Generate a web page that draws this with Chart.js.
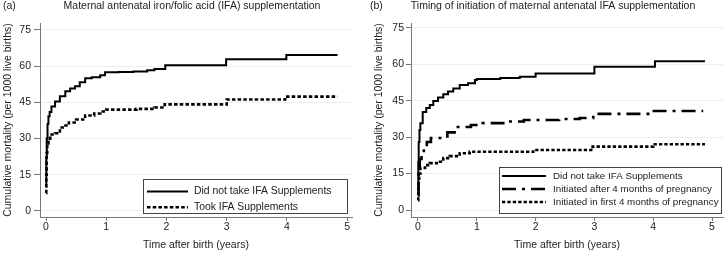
<!DOCTYPE html>
<html><head><meta charset="utf-8">
<script src="https://cdn.jsdelivr.net/npm/chart.js@4/dist/chart.umd.min.js"></script>
<style>
html,body{margin:0;padding:0;background:#fff;}
#wrap{position:relative;width:727px;height:254px;overflow:hidden;}
.pane{position:absolute;top:0;height:254px;}
canvas{display:block;}
</style></head><body>
<div id="wrap">
<div class="pane" style="left:0;width:363px"><canvas id="ca" width="363" height="254"></canvas></div>
<div class="pane" style="left:363px;width:364px"><canvas id="cb" width="364" height="254"></canvas></div>
</div>
<script>
// ---- data ----
const xTicks = [0, 1, 2, 3, 4, 5];
const yTicks = [0, 15, 30, 45, 60, 75];

// Panel (a)
const timeA_none = [0, 0.005, 0.012, 0.025, 0.04, 0.06, 0.09, 0.15, 0.23, 0.32, 0.4, 0.48, 0.56, 0.65, 0.76, 0.9, 0.98, 1.2, 1.45, 1.68, 1.8, 1.98, 2.99, 3.99, 4.84];
const cumA_none  = [10, 22, 30, 36, 39.3, 41, 43.3, 45.4, 47.5, 49.6, 50.8, 51.7, 53.3, 55, 55.4, 56.2, 57.5, 57.6, 57.8, 58.3, 58.8, 60.4, 62.9, 64.6, 64.6];
const timeA_took = [0, 0.004, 0.01, 0.02, 0.04, 0.07, 0.15, 0.23, 0.3, 0.38, 0.5, 0.65, 0.8, 0.9, 1.0, 1.5, 1.8, 1.97, 3.0, 3.97, 4.84];
const cumA_took  = [7.5, 15, 24, 28, 30, 31.7, 32.2, 34.6, 35.4, 36.7, 37.9, 39.6, 40.4, 41.2, 42, 42.3, 42.9, 44.2, 46.2, 47.4, 47.4];

// Panel (b)
const timeB_none  = [0, 0.005, 0.012, 0.025, 0.04, 0.08, 0.14, 0.2, 0.26, 0.34, 0.43, 0.51, 0.6, 0.71, 0.85, 0.97, 1.0, 1.4, 1.73, 2.0, 3.0, 4.03, 4.88];
const cumB_none   = [8, 20, 28, 33, 35.8, 40.4, 42, 43.3, 44.9, 46.4, 47.7, 48.8, 50.1, 51.5, 52.2, 53.6, 54, 54.4, 54.9, 56.3, 59.0, 61.3, 61.3];
const timeB_late  = [0, 0.01, 0.03, 0.06, 0.1, 0.15, 0.22, 0.4, 0.5, 0.65, 0.9, 1.1, 1.45, 1.8, 2.4, 2.75, 2.98, 3.98, 4.85];
const cumB_late   = [6, 16, 21, 23.5, 24.5, 28, 29.7, 30.3, 32, 34.2, 35, 35.8, 36.5, 37.1, 37.5, 37.9, 39.6, 40.8, 40.8];
const timeB_early = [0, 0.005, 0.01, 0.02, 0.04, 0.12, 0.2, 0.32, 0.43, 0.54, 0.71, 0.88, 1.96, 2.97, 4.0, 4.88];
const cumB_early  = [4, 8, 12, 15, 17.3, 18.5, 19.3, 19.9, 21.4, 22.2, 23.4, 24, 24.7, 26.1, 27.1, 27.1];

const labelsA = ['Did not take IFA Supplements', 'Took IFA Supplements'];
const labelsB = ['Did not take IFA Supplements', 'Initiated after 4 months of pregnancy', 'Initiated in first 4 months of pregnancy'];

// ---- helpers ----
const FONT = '"Liberation Sans", Arial, Helvetica, sans-serif';
const pts = (t, v) => t.map((x, i) => ({x: x, y: v[i]}));

const boxLegend = {
  id: 'boxLegend',
  afterDatasetsDraw(chart, args, o) {
    const ctx = chart.ctx, ca = chart.chartArea;
    const x = ca.right - o.right - o.width;
    const y = ca.bottom - o.bottom - o.height;
    ctx.save();
    ctx.fillStyle = '#fff';
    ctx.fillRect(x, y, o.width, o.height);
    ctx.strokeStyle = '#444';
    ctx.lineWidth = 1;
    ctx.strokeRect(x + 0.5, y + 0.5, o.width - 1, o.height - 1);
    chart.data.datasets.forEach((ds, i) => {
      const cy = y + o.rowTop + i * o.rowGap;
      ctx.beginPath();
      ctx.setLineDash(ds.borderDash || []);
      ctx.lineWidth = ds.borderWidth;
      ctx.strokeStyle = ds.borderColor;
      ctx.lineCap = 'butt';
      ctx.moveTo(x + o.sampleX, cy);
      ctx.lineTo(x + o.sampleX + o.sampleW, cy);
      ctx.stroke();
      ctx.setLineDash([]);
      ctx.fillStyle = '#222';
      ctx.font = o.fontSize + 'px ' + FONT;
      ctx.textBaseline = 'middle';
      ctx.textAlign = 'left';
      ctx.fillText(ds.label, x + o.textX, cy);
    });
    ctx.restore();
  }
};

const panelText = {
  id: 'panelText',
  afterDraw(chart, args, o) {
    const ctx = chart.ctx;
    ctx.save();
    ctx.fillStyle = '#222';
    ctx.font = '10.5px ' + FONT;
    ctx.textBaseline = 'middle';
    ctx.textAlign = 'left';
    ctx.fillText(o.tag, o.tagX, o.y);
    ctx.textAlign = 'center';
    ctx.fillText(o.title, o.titleX, o.y);
    ctx.restore();
  }
};

function makeChart(id, cfg) {
  const datasets = cfg.series.map(s => ({
    label: s.label,
    data: s.data,
    borderColor: '#000',
    borderWidth: s.width,
    borderDash: s.dash,
    borderCapStyle: 'butt',
    stepped: true,
    pointRadius: 0,
    fill: false,
    tension: 0
  }));
  return new Chart(document.getElementById(id), {
    type: 'line',
    data: {datasets: datasets},
    options: {
      responsive: false,
      animation: false,
      devicePixelRatio: 1,
      layout: {padding: {left: 0, right: cfg.padRight, top: 23, bottom: 0}},
      plugins: {
        legend: {display: false},
        tooltip: {enabled: false},
        title: {display: false},
        boxLegend: cfg.legend,
        panelText: cfg.text
      },
      scales: {
        x: {
          type: 'linear',
          min: cfg.xMin, max: cfg.xMax,
          afterBuildTicks: s => { s.ticks = xTicks.map(v => ({value: v})); },
          afterFit: s => { s.height = 37; },
          grid: {drawOnChartArea: false, drawTicks: true, tickLength: 4, tickColor: '#777'},
          border: {display: true, color: '#777', width: 1},
          ticks: {padding: 0, color: '#222', font: {family: FONT, size: 10.5}, maxRotation: 0},
          title: {display: true, text: 'Time after birth (years)', color: '#222',
                  font: {family: FONT, size: 10.5}, padding: {top: 0, bottom: 3}}
        },
        y: {
          type: 'linear',
          min: cfg.yMin, max: cfg.yMax,
          afterBuildTicks: s => { s.ticks = yTicks.map(v => ({value: v})); },
          afterFit: s => { s.width = cfg.yWidth; },
          grid: {color: '#e8f1f2', lineWidth: 1, drawTicks: true, tickLength: cfg.yTickLen, tickColor: '#777'},
          border: {display: true, color: '#777', width: 1},
          ticks: {padding: cfg.yTickPad, color: '#222', font: {family: FONT, size: 10.5}},
          title: {display: true, text: 'Cumulative mortality (per 1000 live births)', color: '#222',
                  font: {family: FONT, size: 10.5}, padding: {top: cfg.yTitlePad, bottom: 0}}
        }
      }
    },
    plugins: [boxLegend, panelText]
  });
}

makeChart('ca', {
  series: [
    {label: labelsA[0], data: pts(timeA_none, cumA_none), width: 2, dash: []},
    {label: labelsA[1], data: pts(timeA_took, cumA_took), width: 2.6, dash: [3.5, 2.2]}
  ],
  xMin: -0.1, xMax: 5.08, yMin: -2.49, yMax: 77.9,
  padRight: 11, yWidth: 40, yTickLen: 6, yTickPad: 3, yTitlePad: 2,
  legend: {right: 4, bottom: 3, width: 205, height: 35, rowTop: 12.5, rowGap: 15.8, sampleX: 4, sampleW: 41, textX: 51, fontSize: 10.4},
  text: {tag: '(a)', tagX: 3, title: 'Maternal antenatal iron/folic acid (IFA) supplementation', titleX: 192, y: 6.5}
});

makeChart('cb', {
  series: [
    {label: labelsB[0], data: pts(timeB_none, cumB_none), width: 2, dash: []},
    {label: labelsB[1], data: pts(timeB_late, cumB_late), width: 2.6, dash: [14, 6, 3, 6]},
    {label: labelsB[2], data: pts(timeB_early, cumB_early), width: 2.6, dash: [3.3, 2.1]}
  ],
  xMin: -0.119, xMax: 5.187, yMin: -2.88, yMax: 77.06,
  padRight: 4, yWidth: 48, yTickLen: 5, yTickPad: 2, yTitlePad: 10,
  legend: {right: 1, bottom: 3, width: 223, height: 47, rowTop: 9, rowGap: 13, sampleX: 3, sampleW: 44, textX: 54, fontSize: 9.8},
  text: {tag: '(b)', tagX: 7, title: 'Timing of initiation of maternal antenatal IFA supplementation', titleX: 190, y: 6.5}
});
</script>
</body></html>
